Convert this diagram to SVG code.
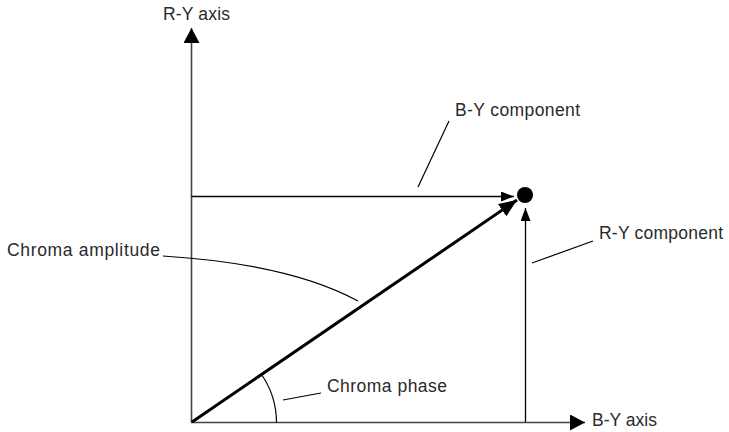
<svg xmlns="http://www.w3.org/2000/svg" width="729" height="432" viewBox="0 0 729 432">
<style>
text{font-family:"Liberation Sans",Arial,sans-serif;font-size:17.5px;fill:#2a2a2a}
.ax{stroke:#444;stroke-width:1.6;fill:none}
.ln{stroke:#000;stroke-width:1.3;fill:none}
.ld{stroke:#000;stroke-width:1.2;fill:none}
</style>
<defs>
<marker id="big" markerUnits="userSpaceOnUse" markerWidth="16" markerHeight="16" refX="15" refY="8" orient="auto"><path d="M0,0 L15,8 L0,16 Z" fill="#000"/></marker>
<marker id="sm" markerUnits="userSpaceOnUse" markerWidth="13" markerHeight="10" refX="13" refY="5" orient="auto"><path d="M0,0 L13,5 L0,10 Z" fill="#000"/></marker>
<marker id="vec" markerUnits="userSpaceOnUse" markerWidth="19" markerHeight="15" refX="18" refY="7.5" orient="auto"><path d="M0,0 L18,7.5 L0,15 Z" fill="#000"/></marker>
</defs>
<g id="connectors">
<line class="ax" x1="191.5" y1="423" x2="191.5" y2="28" marker-end="url(#big)"/>
<line class="ax" x1="191" y1="422.5" x2="585" y2="422.5" marker-end="url(#big)"/>
<line class="ln" x1="191.5" y1="196.5" x2="514" y2="196.5" marker-end="url(#sm)"/>
<line class="ln" x1="525.5" y1="422" x2="525.5" y2="208" marker-end="url(#sm)"/>
<line x1="192" y1="422" x2="517" y2="200" stroke="#000" stroke-width="3" marker-end="url(#vec)"/>
<path class="ld" d="M276.5,422.5 A85,85 0 0 0 261.5,374.5"/>
<line class="ld" x1="418" y1="187" x2="449" y2="121"/>
<line class="ld" x1="532" y1="263" x2="593" y2="241"/>
<line class="ld" x1="283" y1="400" x2="321" y2="393"/>
<path class="ld" d="M163,256 Q290,264 358,301"/>
</g>
<g id="dot"><circle cx="525" cy="195" r="8" fill="#000"/></g>
<g id="ry-axis"><text x="163" y="20" textLength="67">R-Y axis</text></g>
<g id="by-axis"><text x="592" y="426" textLength="65">B-Y axis</text></g>
<g id="by-comp"><text x="455" y="116" textLength="125">B-Y component</text></g>
<g id="ry-comp"><text x="599" y="239" textLength="124">R-Y component</text></g>
<g id="amp"><text x="7" y="256" textLength="153">Chroma amplitude</text></g>
<g id="phase"><text x="327" y="392" textLength="120">Chroma phase</text></g>
</svg>
